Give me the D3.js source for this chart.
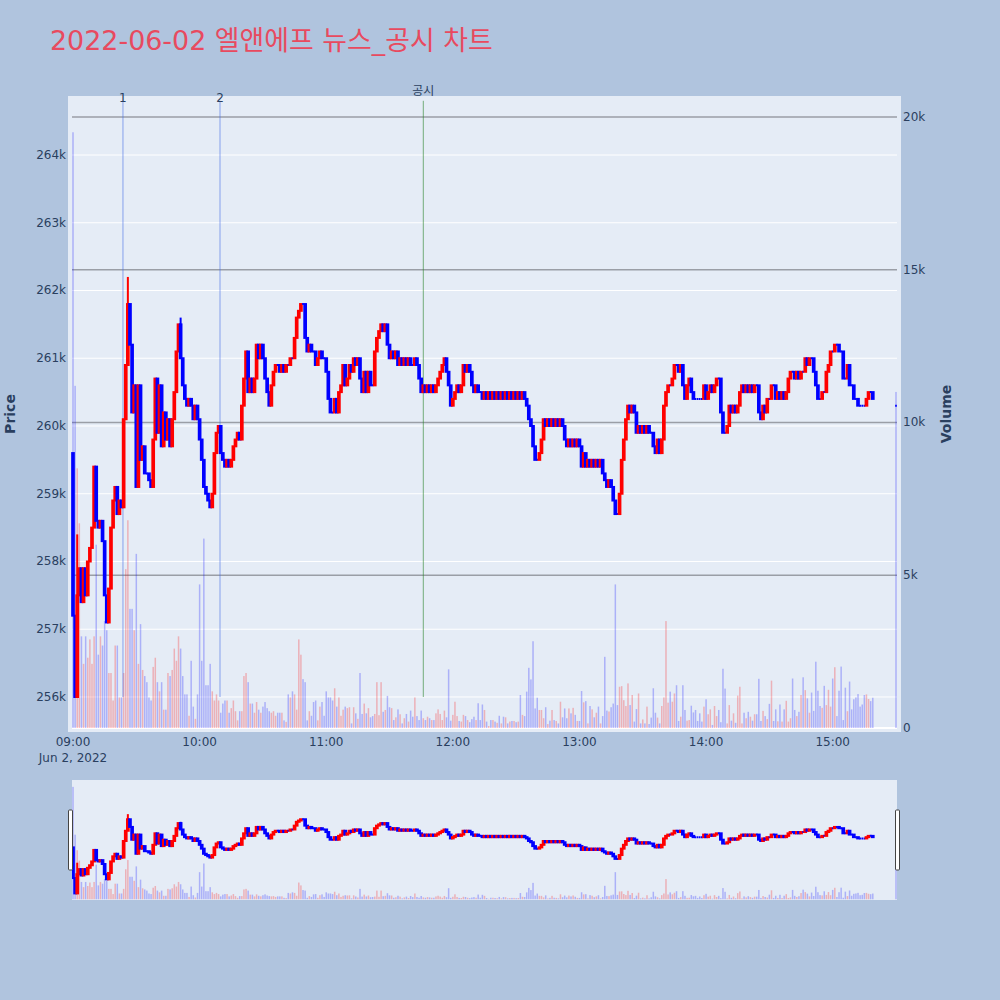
<!DOCTYPE html>
<html><head><meta charset="utf-8">
<script src="https://cdn.jsdelivr.net/npm/d3@7"></script>
<style>
body{margin:0;background:#b0c4de;}
svg{display:block;font-family:"DejaVu Sans","Noto Sans CJK KR",sans-serif;}
</style>
</head><body>
<svg id="chart" width="1000" height="1000"></svg>
<script>
// ---------------- data ----------------
const TITLE = "2022-06-02 엘앤에프 뉴스_공시 차트";
const SESSION_START = "2022-06-02T09:00:00";
const PRICE_UNIT = 100;           // prices below are in units of 100 won
const firstOpen = 2596;
// close of every 1-minute candle from 09:00 (index 0) to 15:19
const closes = [
2572,2560,2575,2579,2574,2579,2575,2580,2582,2585,
2594,2586,2585,2586,2583,2575,2571,2576,2585,2589,
2591,2587,2589,2588,2601,2609,2618,2612,2602,2606,
2591,2606,2595,2597,2593,2593,2592,2591,2598,2607,
2599,2606,2597,2602,2598,2601,2597,2601,2605,2611,
2615,2610,2606,2604,2603,2604,2603,2601,2603,2601,
2598,2595,2591,2590,2589,2588,2590,2596,2599,2600,
2596,2595,2594,2595,2594,2595,2597,2598,2599,2598,
2603,2607,2611,2605,2607,2605,2607,2612,2610,2612,
2610,2607,2605,2603,2606,2608,2609,2609,2608,2609,
2608,2609,2609,2610,2610,2613,2616,2617,2618,2618,
2613,2611,2612,2611,2611,2609,2610,2611,2610,2610,
2608,2604,2602,2602,2604,2602,2605,2606,2609,2606,
2607,2609,2608,2610,2609,2610,2607,2605,2608,2605,
2608,2606,2606,2611,2613,2614,2615,2614,2615,2612,
2610,2611,2610,2611,2609,2610,2609,2610,2609,2610,
2609,2609,2610,2609,2607,2605,2606,2605,2606,2605,
2606,2605,2606,2607,2608,2609,2610,2608,2606,2603,
2604,2605,2606,2605,2606,2609,2608,2609,2608,2606,
2605,2606,2605,2605,2604,2605,2604,2605,2604,2605,
2604,2605,2604,2605,2604,2605,2604,2605,2604,2605,
2604,2605,2604,2605,2604,2603,2601,2600,2597,2595,
2595,2596,2598,2601,2600,2601,2600,2601,2600,2601,
2600,2601,2600,2598,2597,2598,2597,2598,2597,2598,
2597,2594,2596,2594,2595,2594,2595,2594,2595,2594,
2595,2593,2592,2591,2592,2591,2589,2587,2587,2590,
2595,2598,2601,2603,2602,2603,2602,2599,2600,2599,
2600,2599,2600,2599,2599,2597,2596,2598,2596,2598,
2603,2605,2606,2606,2607,2609,2609,2608,2609,2606,
2604,2606,2607,2605,2604,2604,2604,2604,2604,2606,
2604,2605,2606,2605,2606,2607,2607,2602,2599,2599,
2600,2603,2602,2603,2602,2603,2605,2606,2605,2606,
2605,2606,2605,2606,2606,2602,2601,2603,2602,2604,
2604,2606,2606,2604,2605,2604,2605,2604,2605,2607,
2608,2608,2607,2608,2607,2608,2608,2610,2609,2610,
2610,2608,2606,2604,2604,2605,2605,2608,2609,2611,
2611,2612,2612,2611,2611,2607,2607,2609,2606,2606,
2604,2604,2603,2603,2603,2603,2604,2605,2605,2604
];
// traded volume of every 1-minute candle (shares)
const volumes = [
19500,11200,8500,6700,3000,2100,3000,2300,2900,2100,
3000,6000,2400,3000,2700,3500,3200,1800,1800,900,
2700,2700,1000,1000,1800,5200,6800,3900,3900,3200,
5700,2100,3400,1900,1700,1500,1000,900,2000,2300,
1500,1200,1500,600,600,1800,1700,1900,2600,2200,
3000,2600,1700,1100,1100,400,2200,700,300,1100,
4700,2200,6200,1400,1400,2100,1200,900,1100,900,
500,800,900,900,500,650,900,550,250,550,
550,1700,1800,1500,800,800,500,850,600,500,
700,850,650,550,500,550,400,500,500,500,
250,200,1100,1000,1200,1100,600,2900,2400,1600,
1500,250,550,400,850,900,250,700,850,400,
1200,1000,1000,900,1300,700,1000,400,600,700,
650,680,150,680,480,300,1800,460,800,480,
650,350,390,460,1500,420,1500,530,590,1050,
680,650,260,350,610,450,150,320,460,210,
570,370,1000,390,260,570,320,260,370,320,
260,260,480,610,460,260,570,350,1920,240,
430,860,390,230,210,430,390,260,190,290,
370,260,810,260,770,590,210,65,260,260,
210,170,400,150,370,350,150,210,230,230,
190,210,1080,430,390,1190,1970,1590,2840,640,
990,590,590,320,680,130,240,590,260,230,
150,860,350,640,320,640,480,660,430,230,
230,1210,840,880,150,720,610,350,500,700,
150,390,2330,570,540,680,800,4700,750,1350,
1370,910,720,1460,750,1080,210,620,1130,150,
280,150,700,130,340,1300,500,340,150,720,
1000,3500,830,1190,860,1130,1400,230,370,1400,
590,240,260,730,510,590,230,480,210,700,
940,450,610,100,720,390,590,190,1940,1290,
150,750,240,480,170,1060,1350,150,500,320,
530,370,240,450,450,1610,230,560,390,290,
790,1550,230,610,220,770,210,610,890,210,
320,1620,590,390,530,1080,1660,1240,970,500,
1160,560,2170,1220,720,660,1380,750,1250,700,
1620,1990,390,1220,2010,260,1320,550,1520,610,
940,1000,1110,700,770,1080,1100,950,880,990
];
// upper shadows that stick out of the bodies: [minute index, high]
const wickHighs = [[2,2584],[26,2622],[51,2616]];
// closing single-price auction
const closingTime = "2022-06-02T15:30:00";
const closingOpen = 2603, closingClose = 2603, closingVolume = 11000;
// news / disclosure markers
const eventLabels = ["1", "2", "공시"];
const eventTimes = ["2022-06-02T09:23:40", "2022-06-02T10:09:40", "2022-06-02T11:46:00"];
const eventPriceSpan = [256000, 264800];
// axes
const priceTicks = [256000,257000,258000,259000,260000,261000,262000,263000,264000];
const volumeTicks = [0,5000,10000,15000,20000];
const priceDomain = [255483, 264871];
const volumeDomain = [-131, 20687];
const timeDomain = ["2022-06-02T09:00:00", "2022-06-02T15:30:00"];

// ---------------- build records ----------------
const start = new Date(SESSION_START);
const highMap = new Map(wickHighs);
const candles = closes.map((c, i) => {
  const o = i === 0 ? firstOpen : closes[i - 1];
  const hi = Math.max(o, c, highMap.get(i) || 0);
  return {t: d3.timeMinute.offset(start, i), o: o * PRICE_UNIT, c: c * PRICE_UNIT,
          h: hi * PRICE_UNIT, l: Math.min(o, c) * PRICE_UNIT, v: volumes[i]};
});
candles.push({t: new Date(closingTime), o: closingOpen * PRICE_UNIT, c: closingClose * PRICE_UNIT,
  h: Math.max(closingOpen, closingClose) * PRICE_UNIT, l: Math.min(closingOpen, closingClose) * PRICE_UNIT, v: closingVolume});

// ---------------- layout ----------------
const svg = d3.select("#chart");
const P = {l: 68, r: 901, t: 96, b: 732};
const G = {l: 72, r: 897};            // grid extent
const S = {t: 780, b: 900};            // range slider
const INC = "#ff0000", DEC = "#0000ff";
const TXT = "#2a3f5f";
const BODY_W = 1.7;

const x = d3.scaleTime().domain(timeDomain.map(d => new Date(d))).range([73, 896]);
const yP = d3.scaleLinear().domain(priceDomain).range([P.b, P.t]);
const yV = d3.scaleLinear().domain(volumeDomain).range([P.b, P.t]);
const yPs = d3.scaleLinear().domain(priceDomain).range([S.b, S.t]);
const yVs = d3.scaleLinear().domain(volumeDomain).range([S.b, S.t]);

// title
svg.append("text").attr("x", 50).attr("y", 50).attr("font-size", 26.9)
  .attr("fill", "#e84a5f").text(TITLE);

// plot background
svg.append("rect").attr("x", P.l).attr("y", P.t).attr("width", P.r - P.l).attr("height", P.b - P.t)
  .attr("fill", "#e5ecf6");

// price gridlines (white)
svg.append("g").selectAll("line").data(priceTicks).join("line")
  .attr("x1", G.l).attr("x2", G.r).attr("y1", d => yP(d)).attr("y2", d => yP(d))
  .attr("stroke", "#ffffff").attr("stroke-width", 1);
// volume gridlines (gray) and zero line
svg.append("g").selectAll("line").data(volumeTicks.filter(d => d > 0)).join("line")
  .attr("x1", G.l).attr("x2", G.r).attr("y1", d => yV(d)).attr("y2", d => yV(d))
  .attr("stroke", "#9a9ea6").attr("stroke-width", 1.5);
svg.append("line").attr("x1", G.l).attr("x2", G.r).attr("y1", yV(0)).attr("y2", yV(0))
  .attr("stroke", "#ffffff").attr("stroke-width", 2);

function drawVolume(g, ys) {
  g.selectAll("rect").data(candles).join("rect")
    .attr("x", d => x(d.t) - 0.75).attr("width", 1.5)
    .attr("y", d => ys(d.v)).attr("height", d => Math.max(0, ys(0) - ys(d.v)))
    .attr("fill", d => d.c > d.o ? INC : DEC).attr("fill-opacity", 0.25);
}
function drawCandles(g, ys) {
  const c = g.selectAll("g").data(candles).join("g")
    .attr("stroke", d => d.c > d.o ? INC : DEC).attr("fill", d => d.c > d.o ? INC : DEC);
  c.filter(d => d.h > Math.max(d.o, d.c)).append("line")
    .attr("x1", d => x(d.t)).attr("x2", d => x(d.t))
    .attr("y1", d => ys(d.h)).attr("y2", d => ys(d.l)).attr("stroke-width", 2);
  c.append("path").attr("stroke-width", 2).attr("d", d => {
    const cx = x(d.t), y1 = ys(Math.max(d.o, d.c)), y2 = ys(Math.min(d.o, d.c));
    return `M${cx - BODY_W / 2},${y1}H${cx + BODY_W / 2}V${y2}H${cx - BODY_W / 2}Z`;
  });
}

drawVolume(svg.append("g"), yV);

// event lines
const ev = eventLabels.map((lab, i) => ({lab, t: new Date(eventTimes[i])}));
svg.append("g").selectAll("line").data(ev).join("line")
  .attr("x1", d => x(d.t)).attr("x2", d => x(d.t))
  .attr("y1", yP(eventPriceSpan[1])).attr("y2", yP(eventPriceSpan[0]))
  .attr("stroke", d => d.lab === "공시" ? "rgba(40,130,40,0.6)" : "rgba(70,110,230,0.4)")
  .attr("stroke-width", d => d.lab === "공시" ? 1 : 1.5);
svg.append("g").selectAll("text").data(ev).join("text")
  .attr("x", d => x(d.t)).attr("y", d => d.lab === "공시" ? 95 : 101.5)
  .attr("text-anchor", "middle").attr("font-size", 12).attr("fill", TXT).text(d => d.lab);

drawCandles(svg.append("g"), yP);

// axes labels
svg.append("g").selectAll("text").data(priceTicks).join("text")
  .attr("x", 66).attr("y", d => yP(d) + 4).attr("text-anchor", "end")
  .attr("font-size", 12).attr("fill", TXT).text(d => d3.format("~s")(d));
svg.append("g").selectAll("text").data(volumeTicks).join("text")
  .attr("x", 903).attr("y", d => yV(d) + 4).attr("text-anchor", "start")
  .attr("font-size", 12).attr("fill", TXT).text(d => d3.format("~s")(d));
const xt = x.ticks(d3.timeHour.every(1));
svg.append("g").selectAll("text").data(xt).join("text")
  .attr("x", d => x(d)).attr("y", 746).attr("text-anchor", "middle")
  .attr("font-size", 12).attr("fill", TXT).text(d3.timeFormat("%H:%M"));
svg.append("text").attr("x", x(xt[0])).attr("y", 762).attr("text-anchor", "middle")
  .attr("font-size", 12).attr("fill", TXT).text(d3.timeFormat("%b %-d, %Y")(xt[0]));

svg.append("text").attr("transform", "translate(14.5,414) rotate(-90)").attr("text-anchor", "middle")
  .attr("font-size", 14).attr("font-weight", "bold").attr("fill", TXT).text("Price");
svg.append("text").attr("transform", "translate(951,414) rotate(-90)").attr("text-anchor", "middle")
  .attr("font-size", 14).attr("font-weight", "bold").attr("fill", TXT).text("Volume");

// range slider
svg.append("defs").append("clipPath").attr("id", "sclip").append("rect")
  .attr("x", G.l).attr("y", S.t).attr("width", G.r - G.l).attr("height", S.b - S.t);
svg.append("rect").attr("x", G.l).attr("y", S.t).attr("width", G.r - G.l).attr("height", S.b - S.t)
  .attr("fill", "#e5ecf6");
const sg = svg.append("g").attr("clip-path", "url(#sclip)");
drawVolume(sg.append("g"), yVs);
drawCandles(sg.append("g"), yPs);
[G.l - 1.5, G.r + 0.5].forEach(hx => {
  svg.append("rect").attr("x", hx - 2).attr("y", 810).attr("width", 4).attr("height", 60)
    .attr("rx", 1).attr("fill", "#ffffff").attr("stroke", "#444").attr("stroke-width", 1);
});
</script>
</body></html>
